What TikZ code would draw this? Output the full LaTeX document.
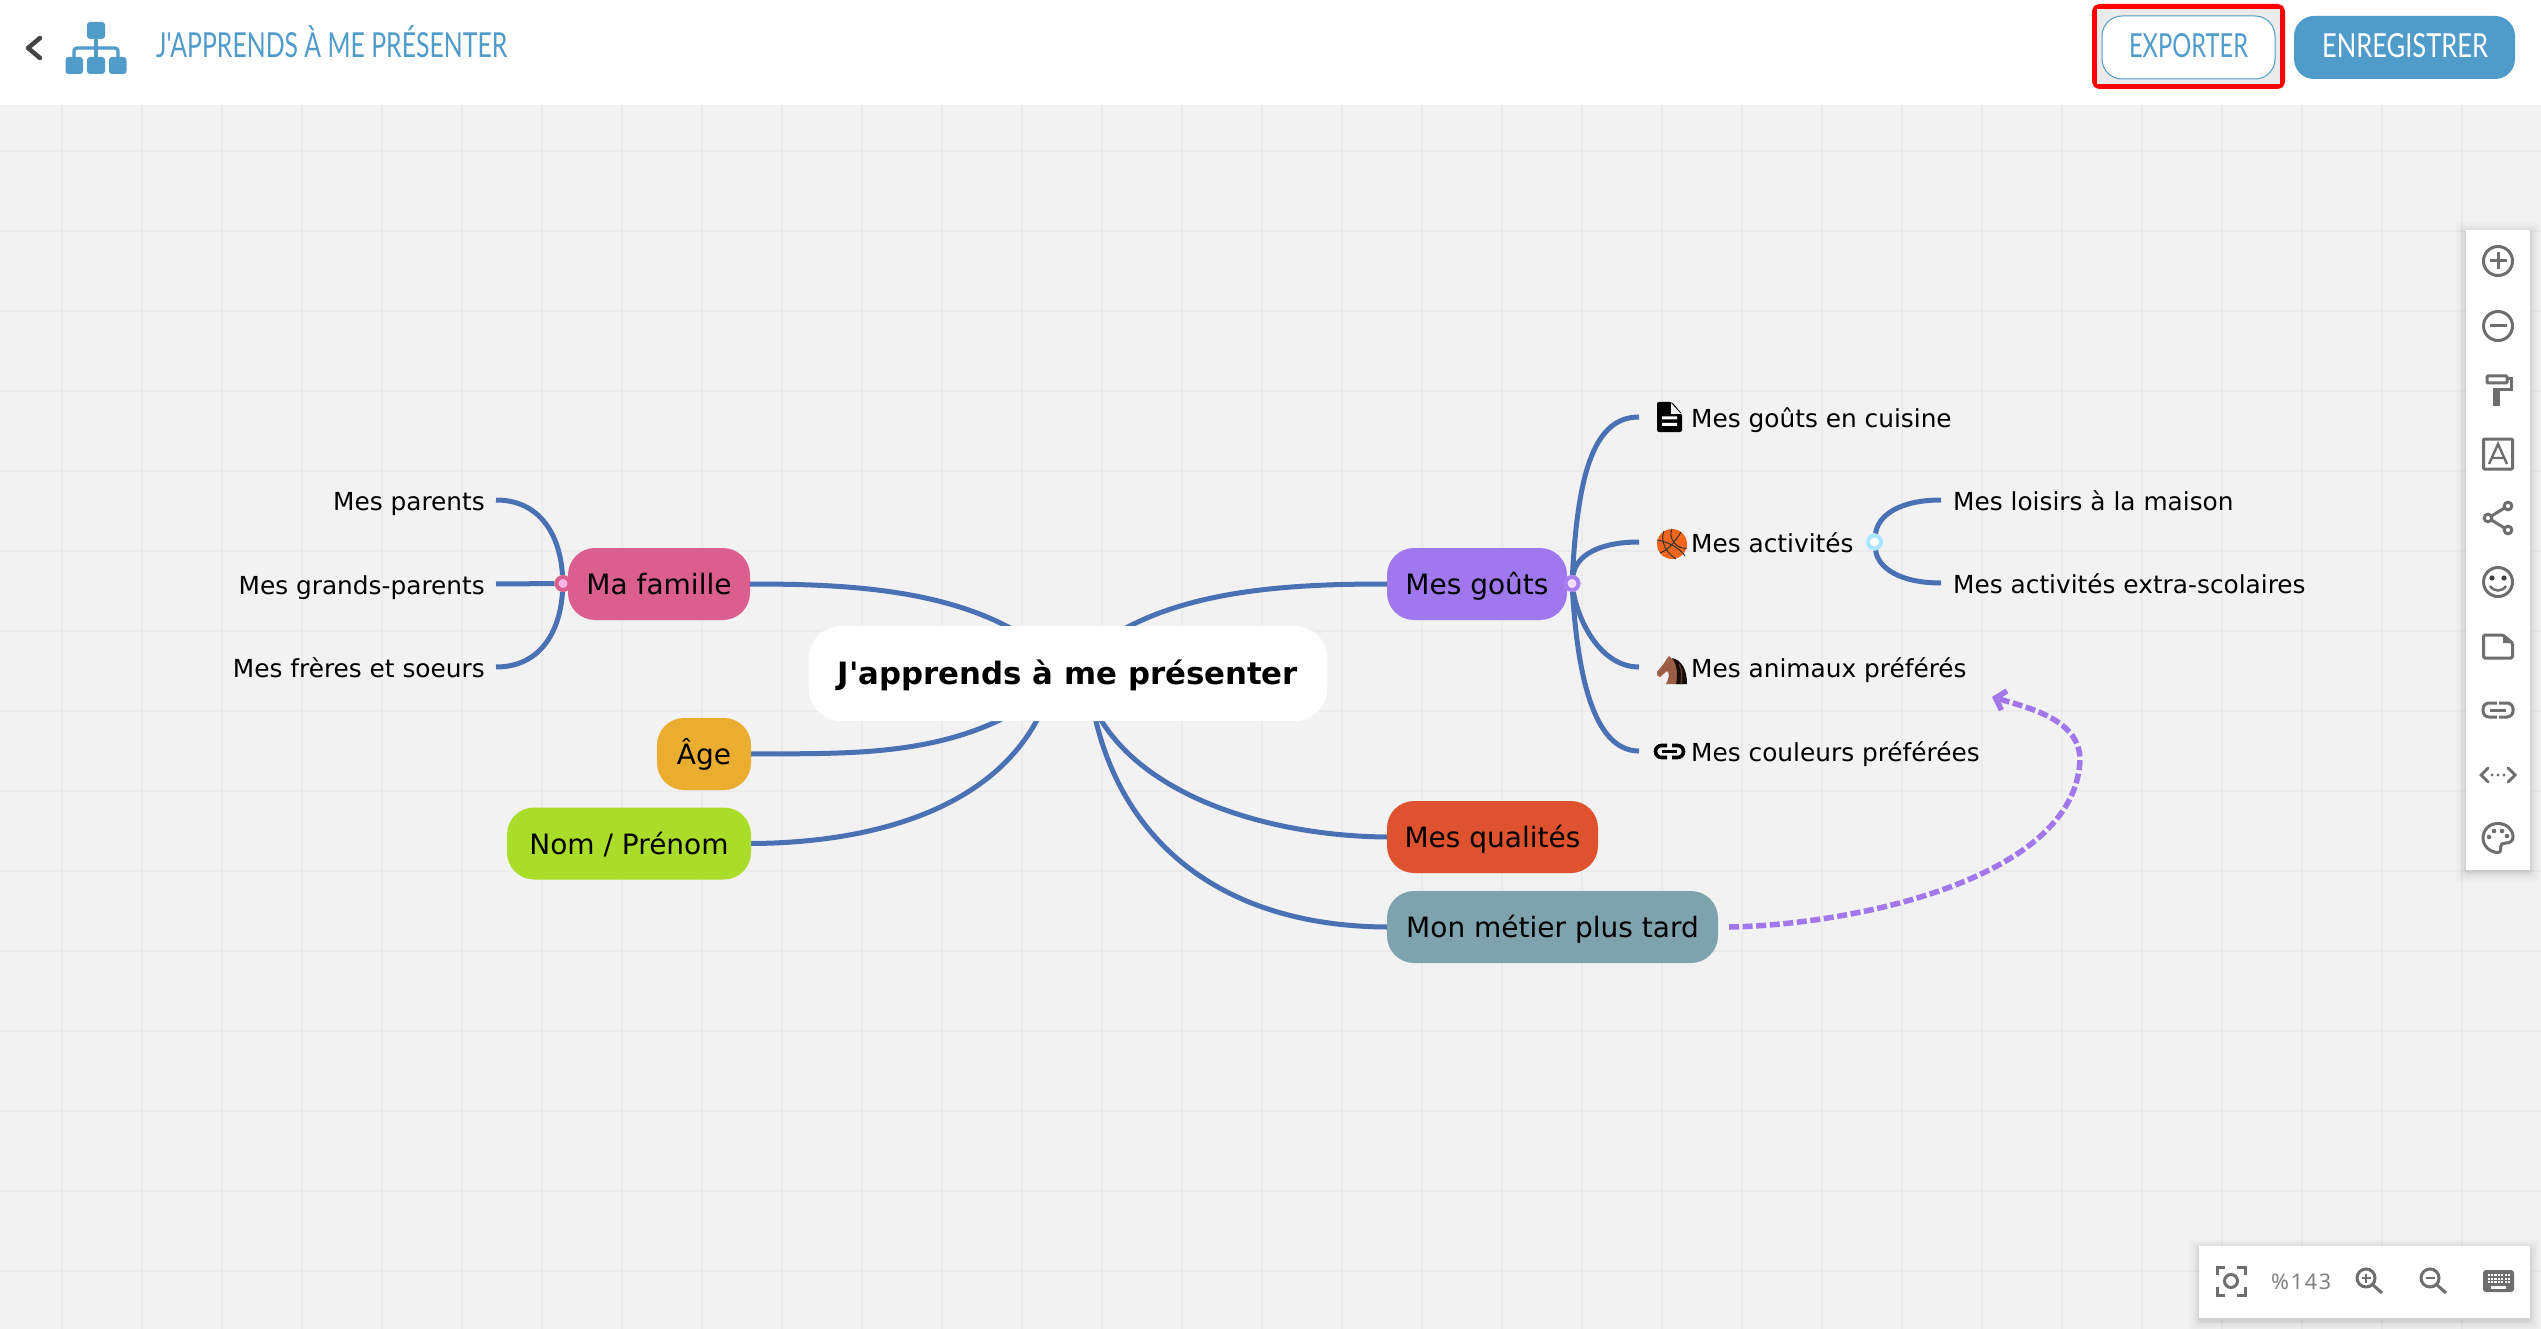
\documentclass[tikz,border=0pt]{standalone}
\usepackage{fontspec}
\usepackage{graphicx}
\setmainfont[Ligatures=TeXOff]{DejaVu Sans}
\newfontfamily\handf{Lato}
\newfontfamily\numf[LetterSpace=8]{Noto Sans}
\usetikzlibrary{arrows.meta,calc}
\definecolor{bluehead}{HTML}{4F9CCB}
\definecolor{linkblue}{HTML}{4B71B5}
\definecolor{dashpurple}{HTML}{A078EC}
\definecolor{gridc}{HTML}{EBEBEB}
\definecolor{bgc}{HTML}{F2F2F2}
\definecolor{ico}{HTML}{6E6E6E}
\definecolor{HTMLfam}{HTML}{DB5F8E}
\definecolor{HTMLfamin}{HTML}{FFB6E6}
\definecolor{HTMLage}{HTML}{EAAD2F}
\definecolor{HTMLnom}{HTML}{AADD2A}
\definecolor{HTMLgou}{HTML}{9F78EE}
\definecolor{HTMLgouin}{HTML}{F6DDFF}
\definecolor{HTMLqua}{HTML}{DE5230}
\definecolor{HTMLmet}{HTML}{7FA3AE}
\definecolor{HTMLball}{HTML}{F4661E}
\definecolor{HTMLhorse}{HTML}{9B5E45}
\definecolor{ringpur}{HTML}{AA80F0}
\definecolor{ringblu}{HTML}{A8E6FF}
\pgfdeclarelayer{gridlayer}\pgfdeclarelayer{edgelayer}
\pgfsetlayers{gridlayer,edgelayer,main}
\tikzset{
  branch/.style={rounded corners=27pt,inner sep=0pt,minimum height=72pt,text=black,
    font=\fontsize{28}{32}\selectfont,text height=26pt,text depth=5pt,align=center},
  rootbox/.style={rounded corners=32pt,inner sep=0pt,fill=white,minimum width=518pt,minimum height=95pt,
    font=\fontsize{30.8}{36}\selectfont\bfseries,text height=26pt,text depth=5pt},
  leaf/.style={inner sep=0pt,text=black,font=\fontsize{24.8}{30}\selectfont,text height=26pt,text depth=5pt},
  edgeline/.style={draw=linkblue,line width=5pt,line cap=butt},
  ringdot/.style={circle,inner sep=0pt,minimum size=13pt,line width=4pt},
  uiline/.style={draw=ico,line width=3pt,fill=none},
  headtext/.style={inner sep=0pt,font=\handf\fontsize{33}{36}\selectfont},
}
\begin{document}
\begin{tikzpicture}[x=1pt,y=-1pt]
\useasboundingbox (0,0) rectangle (2541,1329);
\begin{pgfonlayer}{gridlayer}
\fill[bgc] (0,0) rectangle (2541,1329);
\foreach \k in {0,...,30} {\draw[gridc,line width=2pt] ({62+80*\k},105) -- ({62+80*\k},1329);}
\foreach \k in {0,...,14} {\draw[gridc,line width=2pt] (0,{151+80*\k}) -- (2541,{151+80*\k});}
\end{pgfonlayer}
% header
\fill[white] (0,0) rectangle (2541,105);
\draw[draw=black!73,line width=4.5pt,line cap=round,line join=round] (40,38) -- (28,48) -- (40,58);
% org icon
\fill[bluehead,rounded corners=3pt] (87,22) rectangle (105,39);
\fill[bluehead,rounded corners=3pt] (65.5,57) rectangle (83,74);
\fill[bluehead,rounded corners=3pt] (87,57) rectangle (105,74);
\fill[bluehead,rounded corners=3pt] (109,57) rectangle (126.5,74);
\draw[bluehead,line width=3.2pt] (96,39) -- (96,57);
\draw[bluehead,line width=3.2pt,rounded corners=3pt] (74,57) -- (74,48) -- (118,48) -- (118,57);
\node[headtext,text=bluehead,anchor=base west] (title) at (156,58) {\resizebox{351pt}{!}{\scalebox{0.72}[1]{J'APPRENDS À ME PRÉSENTER}}};
% buttons
\fill[black,opacity=.06,rounded corners=6pt] (2092,4) rectangle (2285,89);
\draw[red,line width=5pt,rounded corners=5pt] (2094.5,6.5) rectangle (2282.5,86.5);
\fill[white!92!black] (2097,9) rectangle (2280,84);
\node[draw=bluehead,line width=1pt,fill=white,rounded corners=20pt,minimum width=173pt,minimum height=63pt,inner sep=0pt] (exporter) at (2188.5,47.5) {};
\node[headtext,text=bluehead,anchor=base] (exptxt) at (2188.5,58) {\resizebox{119pt}{24pt}{EXPORTER}};
\node[fill=bluehead,rounded corners=20pt,minimum width=221pt,minimum height=63pt,inner sep=0pt] (enreg) at (2404.5,47.5) {};
\node[headtext,text=white,anchor=base] (enrtxt) at (2405,58) {\resizebox{166pt}{24pt}{ENREGISTRER}};
% toolbar shadow + panels
\foreach \d/\o in {10/.012,8/.015,6/.02,4/.025,2/.03,1/.03} {
  \fill[black,opacity=\o,rounded corners=3pt] ({2466-\d},{230-\d+2}) rectangle ({2530+\d},{870+\d+2});
  \fill[black,opacity=\o,rounded corners=3pt] ({2199-\d},{1246-\d+3}) rectangle ({2530+\d},{1318+\d+3});
}
\fill[white] (2466,230) rectangle (2530,870);
\fill[white] (2199,1246) rectangle (2530,1318);
% toolbar icons
\begin{scope}[shift={(2498,261)}]
\draw[uiline] (0,0) circle (14.5pt); \draw[uiline] (-8.5,0) -- (8.5,0) (0,-8.5) -- (0,8.5);
\end{scope}
\begin{scope}[shift={(2498,326)}]
\draw[uiline] (0,0) circle (14.5pt); \draw[uiline] (-8.5,0) -- (8.5,0);
\end{scope}
\begin{scope}[shift={(2498,390)}]
\draw[uiline,rounded corners=1pt] (-11,-14) rectangle (9,-7);
\draw[uiline] (9,-11) -- (13.5,-11) -- (13.5,0) -- (-1.5,0);
\fill[ico] (-5,-1.5) rectangle (2,16);
\end{scope}
\begin{scope}[shift={(2498,454)}]
\draw[uiline,rounded corners=1pt] (-14.5,-15) rectangle (14.5,15);
\draw[draw=ico,line width=2.4pt,line join=miter] (-9,10) -- (0,-10) -- (9,10) (-5.5,4) -- (5.5,4);
\end{scope}
\begin{scope}[shift={(2498,518)}]
\draw[uiline] (10,-12) circle (3.8pt) (-10,0) circle (3.8pt) (10,12) circle (3.8pt);
\draw[uiline] (6.5,-10) -- (-6.5,-2) (-6.5,2) -- (6.5,10);
\end{scope}
\begin{scope}[shift={(2498,582)}]
\draw[uiline] (0,0) circle (14.5pt);
\fill[black!75] (-6,-4) circle (2.6pt) (6,-4) circle (2.6pt);
\draw[uiline,line width=2.5pt] (-8,4) .. controls (-4,10) and (4,10) .. (8,4);
\end{scope}
\begin{scope}[shift={(2498,646)}]
\draw[uiline,rounded corners=1.5pt] (-14.5,-11) -- (5,-11) -- (14.5,-3) -- (14.5,12) -- (-14.5,12) -- cycle;
\fill[ico] (5,-12) -- (15.5,-3) -- (5,-3) -- cycle;
\end{scope}
\begin{scope}[shift={(2498,710)}]
\draw[uiline,rounded corners=6pt] (-1,-7) -- (-15,-7) -- (-15,7) -- (-1,7);
\draw[uiline,rounded corners=6pt] (1,-7) -- (15,-7) -- (15,7) -- (1,7);
\draw[uiline] (-8,0) -- (8,0);
\end{scope}
\begin{scope}[shift={(2498,775)}]
\draw[uiline,line width=2.8pt,line cap=round] (-10,-7) -- (-17,0) -- (-10,7) (10,-7) -- (17,0) -- (10,7);
\fill[ico] (-6,0) circle (1.7pt) (0,0) circle (1.7pt) (6,0) circle (1.7pt);
\end{scope}
\begin{scope}[shift={(2498,838)}]
\draw[uiline,line join=round] (0,-14.5) .. controls (-9,-14.5) and (-15,-8) .. (-15,0) .. controls (-15,8) and (-8,14.5) .. (0,14.5)
 .. controls (3,14.5) and (3,11) .. (2.5,9) .. controls (2,6) and (5,5) .. (8,5) .. controls (12,5) and (15,3) .. (15,-1) .. controls (15,-9) and (8,-14.5) .. (0,-14.5) -- cycle;
\fill[ico] (-9,-1) circle (2.3pt) (-4,-7) circle (2.3pt) (4,-7) circle (2.3pt) (9,-2) circle (2.3pt);
\end{scope}
% bottom panel
\begin{scope}[shift={(2231,1281)}]
\draw[uiline] (-14,-6) -- (-14,-14) -- (-6,-14) (6,-14) -- (14,-14) -- (14,-6) (14,6) -- (14,14) -- (6,14) (-6,14) -- (-14,14) -- (-14,6);
\draw[uiline] (0,0) circle (6.5pt);
\end{scope}
\node[inner sep=0pt,anchor=base west,text=black!50,font=\numf\fontsize{21.5}{24}\selectfont] (zoomval) at (2271,1289) {\%143};
\begin{scope}[shift={(2366,1278)}]
\draw[uiline] (0,0) circle (9pt); \draw[uiline] (7,7) -- (16,15); \draw[uiline,line width=2pt] (-4.5,0) -- (4.5,0) (0,-4.5) -- (0,4.5);
\end{scope}
\begin{scope}[shift={(2430,1278)}]
\draw[uiline] (0,0) circle (9pt); \draw[uiline] (7,7) -- (16,15); \draw[uiline,line width=2pt] (-4.5,0) -- (4.5,0);
\end{scope}
\fill[ico,rounded corners=3pt] (2483,1270) rectangle (2514,1292);
\foreach \yy in {1274,1277.5,1281} {\foreach \k in {0,...,6} {\fill[white] ({2487.5+3.4*\k},\yy) rectangle ++(2.2,2.2);}}
\fill[white] (2491,1285.5) rectangle (2506,1288.5);
% nodes
\node[rootbox] (root) at (1068,673.5) {J'apprends à me présenter};
\node[branch,fill=HTMLfam,minimum width=182pt] (famille) at (659,584) {Ma famille};
\node[branch,fill=HTMLage,minimum width=94pt] (age) at (704,754) {Âge};
\node[branch,fill=HTMLnom,minimum width=244pt] (nom) at (629,843.5) {Nom / Prénom};
\node[branch,fill=HTMLgou,minimum width=180pt] (gouts) at (1477,584) {Mes goûts};
\node[branch,fill=HTMLqua,minimum width=211pt] (qualites) at (1492.5,837) {Mes qualités};
\node[branch,fill=HTMLmet,minimum width=331pt] (metier) at (1552.5,927) {Mon métier plus tard};
\node[leaf,anchor=east] (parents) at (485,500) {Mes parents};
\node[leaf,anchor=east] (grands) at (485,584) {Mes grands-parents};
\node[leaf,anchor=east] (freres) at (485,667) {Mes frères et soeurs};
\node[leaf,anchor=west] (cuisine) at (1691,417) {Mes goûts en cuisine};
\node[leaf,anchor=west] (activites) at (1691,542) {Mes activités};
\node[leaf,anchor=west] (animaux) at (1691,667) {Mes animaux préférés};
\node[leaf,anchor=west] (couleurs) at (1691,751) {Mes couleurs préférées};
\node[leaf,anchor=west] (loisirs) at (1953,500) {Mes loisirs à la maison};
\node[leaf,anchor=west] (extra) at (1953,583) {Mes activités extra-scolaires};
\node[ringdot,draw=HTMLfam,fill=HTMLfamin] (dotF) at (563,583.5) {};
\node[ringdot,draw=ringpur,fill=HTMLgouin] (dotG) at (1572,583.5) {};
\node[ringdot,draw=ringblu,fill=white] (dotA) at (1874.5,542) {};
\coordinate (hub) at (root.center);
\coordinate (hubN) at (1050,690);
\coordinate (hubQ) at (1087,690);
\coordinate (hubM) at (1090,690);
\coordinate (linkStart) at (1729,927);
\coordinate (linkMid) at (2080,760);
\coordinate (linkEnd) at (1992,697);
% icons
\fill[black,rounded corners=2pt] (1657,402) -- (1672,402) -- (1682,414) -- (1682,432) -- (1657,432) -- cycle;
\fill[bgc] (1671,403) -- (1681,414) -- (1671,414) -- cycle;
\fill[white] (1662,416.5) rectangle (1677,419.5) (1662,423) rectangle (1677,426);
\fill[HTMLball] (1672,544) circle (15pt);
\draw[black!80,line width=1pt] (1657,540) .. controls (1668,542) and (1680,548) .. (1685,556)
  (1664,531) .. controls (1660,540) and (1665,552) .. (1676,559)
  (1672,529) .. controls (1668,536) and (1675,550) .. (1687,548)
  (1681,532) .. controls (1675,542) and (1668,550) .. (1660,553);
\fill[HTMLhorse] (1657,672) .. controls (1660,668) and (1664,664) .. (1666,660) -- (1669,656) -- (1672,659)
  .. controls (1680,660) and (1682,672) .. (1684,684) -- (1666,684) .. controls (1669,678) and (1670,673) .. (1667,671) -- (1660,677) .. controls (1657,677) and (1657,675) .. (1657,672) -- cycle;
\fill[black!85!HTMLhorse] (1672,658) .. controls (1682,660) and (1687,670) .. (1687,684) -- (1676,684) .. controls (1678,674) and (1677,664) .. (1672,658) -- cycle;
\draw[HTMLhorse!70!black,line width=1pt] (1679,664) .. controls (1682,670) and (1682,676) .. (1681,684);
\draw[black,line width=3.6pt,rounded corners=6pt] (1667,745.5) -- (1655.5,745.5) -- (1655.5,757.5) -- (1667,757.5);
\draw[black,line width=3.6pt,rounded corners=6pt] (1672,745.5) -- (1683.5,745.5) -- (1683.5,757.5) -- (1672,757.5);
\draw[black,line width=3.6pt] (1662,751.5) -- (1677,751.5);
% connectors
\begin{pgfonlayer}{edgelayer}
\draw[edgeline] (famille.east) .. controls (860,584) and (995,590) .. (hub);
\draw[edgeline] (age.east) .. controls (860,753) and (975,760) .. (hub);
\draw[edgeline] (nom.east) .. controls (870,843) and (1010,810) .. (hubN);
\draw[edgeline] (gouts.west) .. controls (1280,584) and (1140,590) .. (hub);
\draw[edgeline] (qualites.west) .. controls (1260,836) and (1120,790) .. (hubQ);
\draw[edgeline] (metier.west) .. controls (1210,926) and (1110,830) .. (hubM);
\draw[edgeline] ([xshift=11pt]parents.east) .. controls (540,500) and (560,535) .. (dotF);
\draw[edgeline] ([xshift=11pt]grands.east) -- (dotF);
\draw[edgeline] ([xshift=11pt]freres.east) .. controls (540,667) and (560,632) .. (dotF);
\draw[edgeline] ([xshift=-52pt]cuisine.west) .. controls (1595,417) and (1578,470) .. (dotG);
\draw[edgeline] ([xshift=-52pt]activites.west) .. controls (1600,542) and (1576,555) .. (dotG);
\draw[edgeline] ([xshift=-52pt]animaux.west) .. controls (1600,667) and (1578,620) .. (dotG);
\draw[edgeline] ([xshift=-52pt]couleurs.west) .. controls (1595,751) and (1578,680) .. (dotG);
\draw[edgeline] ([xshift=-12pt]loisirs.west) .. controls (1900,500) and (1878,515) .. (dotA);
\draw[edgeline] ([xshift=-12pt]extra.west) .. controls (1900,583) and (1878,568) .. (dotA);
\end{pgfonlayer}
\draw[draw=dashpurple,line width=5.5pt,dash pattern=on 10pt off 3.6pt,
  -{Straight Barb[length=9pt,width=20pt,line width=5.5pt]}]
  (linkStart) .. controls (1850,925) and (2075,880) .. (linkMid) .. controls (2080,720) and (2030,708) .. (linkEnd);
\end{tikzpicture}
\end{document}
